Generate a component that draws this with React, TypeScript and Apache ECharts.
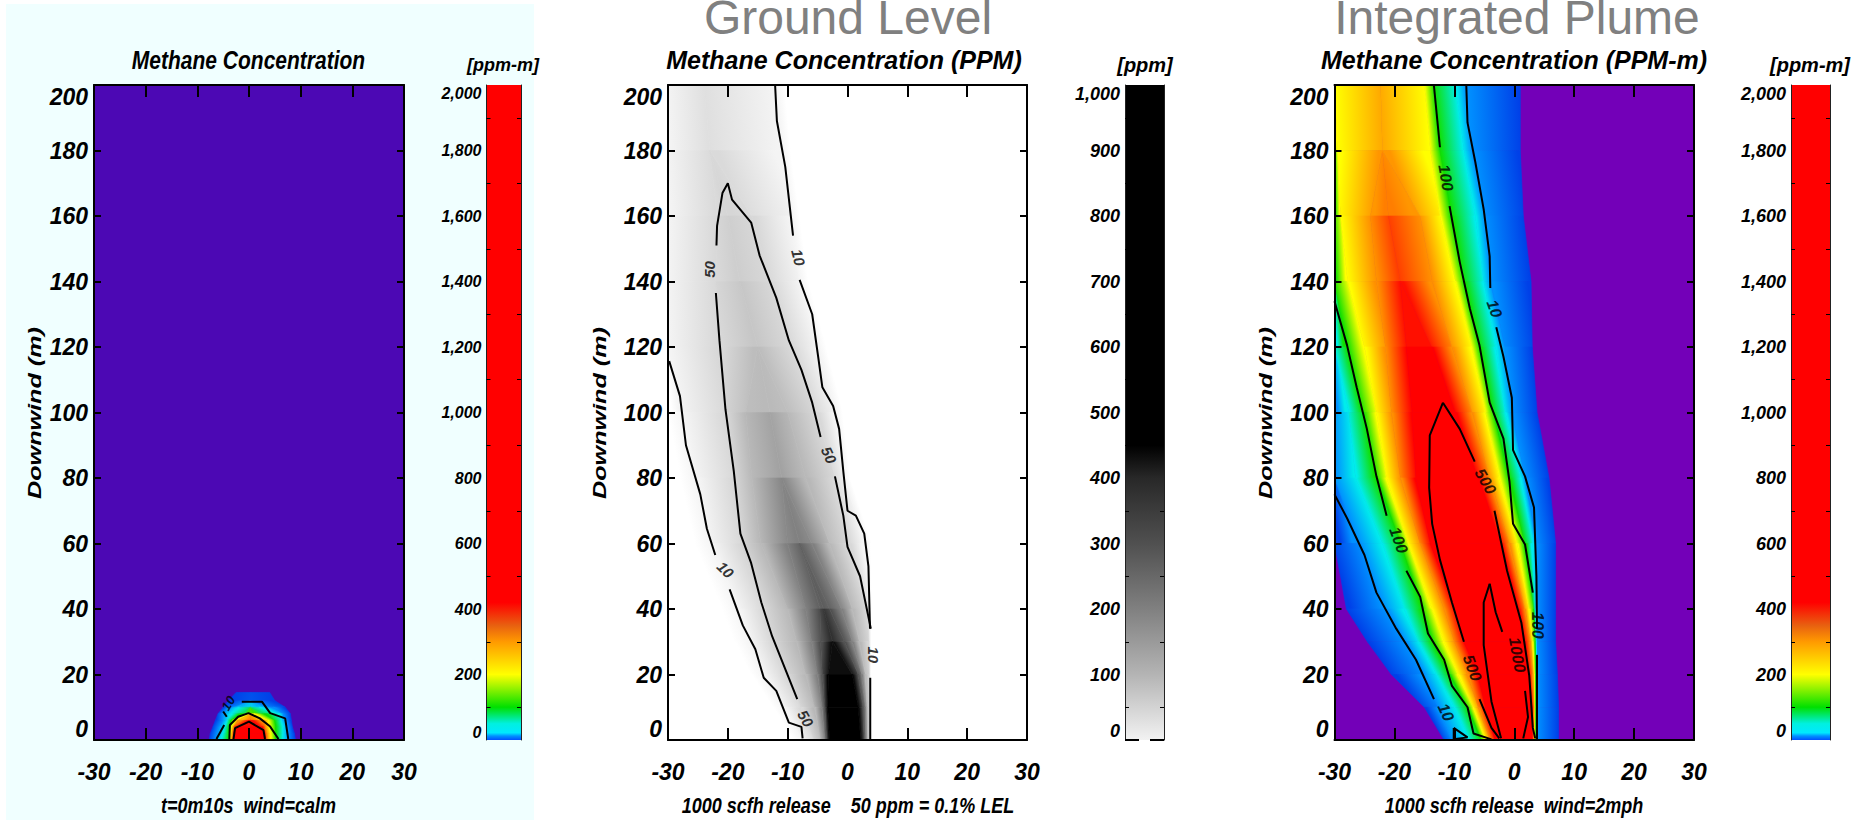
import React, { useEffect, useRef } from "react";
import * as echarts from "echarts";

const xTicks = [-30, 30];
const yRange = [0, 200];
const FONT = '"Liberation Sans Narrow", "Liberation Sans", Arial, sans-serif';
const WIDE = '"Liberation Sans", Arial, sans-serif';

// colour maps: level -> colour
const rainbowLevels = [1, 10, 30, 100, 200, 300, 420];
const rainbowColors = ["#0040e8", "#0090ff", "#00ecec", "#10e000", "#ffff00", "#ff9000", "#ff0000"];
const grayLevels = [2, 10, 50, 100, 200, 300, 450];
const grayColors = ["#ffffff", "#f4f4f4", "#d8d8d8", "#b8b8b8", "#808080", "#505050", "#000000"];

// colour bars
const rainbowBar: [number, string][] = [[0, "#0050ff"], [12, "#0090ff"], [22, "#00e8ff"], [50, "#00f0e0"], [100, "#00e000"], [150, "#80f000"], [200, "#ffff00"], [300, "#ff9a00"], [350, "#e86010"], [420, "#ff0000"], [2000, "#ff0000"]];
const grayBar: [number, string][] = [[0, "#f2f2f2"], [100, "#b4b4b4"], [200, "#808080"], [300, "#505050"], [400, "#282828"], [450, "#000000"], [1000, "#000000"]];

// ---- Panel 1: t=0m10s, calm. Band edges (x, m) per downwind row
const rows1 = [14.5, 12, 10, 8, 6, 4, 2, 0];
const peak1 = [1, 5, 40, 210, 400, 500, 500, 500];
const left1 = [
  [-2.5, -4, -5, -6, -6.5, -7, -7.5, -7.7],
  [0.3, 0.3, -3.8, -5.2, -5, -5.8, -6.2, -6.5],
  [0.3, 0.3, -2, -3.5, -4.2, -4.7, -5, -5.5],
  [0.3, 0.3, 0.3, -1.5, -3.5, -3.8, -3.9, -4],
  [0.3, 0.3, 0.3, 0, -2.8, -3.4, -3.6, -3.7],
  [0.3, 0.3, 0.3, 0.3, -2, -3, -3.2, -3.3],
  [0.3, 0.3, 0.3, 0.3, 0.3, -2.6, -2.9, -3],
];
const right1 = [
  [0.3, 0.3, 0.3, 0.3, 0.3, 2.6, 3, 3.1],
  [0.3, 0.3, 0.3, 0.3, 2.8, 3.2, 3.5, 3.6],
  [0.3, 0.3, 0.3, 1, 3.8, 4, 4.2, 4.3],
  [0.3, 0.3, 0.3, 3, 5, 5.2, 5.2, 5.2],
  [0.3, 0.3, 2, 6, 6.2, 6.6, 6.6, 6.6],
  [0.3, 0.3, 4.8, 6.6, 7, 7.5, 7.6, 7.6],
  [4, 5, 7, 8, 8.2, 8.4, 8.8, 9],
];
const contours1 = [
  [[-6.3, 0.3], [-4.8, 4.6]],
  [[-5, 8.7], [-4.3, 7.1]],
  [[-1.4, 11.7], [2.5, 11.7], [4.1, 8.2], [7, 6.6], [7.6, 0.3]],
  [[-3.8, 0.3], [-3.7, 4.6], [-2.1, 7.1], [-0.1, 8.2], [2.1, 6.6], [4.1, 4.1], [5.7, 0.3]],
  [[-3, 0.3], [-2.7, 3.6], [0, 5.6], [2.8, 3], [3.1, 0.3]],
];
const labels1: [number, number, string, number][] = [[-4, 11.2, "10", 60]];

// ---- Panel 2: ground level
const rows2 = [200, 180, 160, 140, 120, 100, 80, 60, 40, 30, 20, 10, 0];
const peak2 = [35, 45, 60, 72, 85, 110, 170, 225, 320, 400, 600, 800, 800];
const left2 = [
  [-30, -30, -30, -30, -30, -30, -28, -25.5, -21, -19, -16, -12.5, -9],
  [-30, -30, -30, -30, -30, -27.5, -25.2, -22.7, -18, -16, -14, -10.5, -7.5],
  [-24, -23, -21.8, -22, -21.5, -20.5, -19, -18, -14, -12.8, -10.2, -7.8, -5.6],
  [-24, -23, -20, -18, -15, -17, -16, -14.5, -10, -8.5, -7, -5.5, -4.5],
  [-24, -23, -20, -18, -15, -13, -11, -10, -7, -6, -5, -4.3, -3.8],
  [-24, -23, -20, -18, -15, -13, -11, -8, -4.6, -4.5, -4.2, -3.8, -3.5],
  [-24, -23, -20, -18, -15, -13, -11, -8, -4, -2.5, -3.2, -3.3, -3],
];
const right2 = [
  [-24, -23, -20, -18, -15, -13, -11, -8, -4, -2.5, 0.8, 1.8, 2.2],
  [-24, -23, -20, -18, -15, -13, -11, -8, -3, -0.5, 1.8, 2.6, 2.8],
  [-24, -23, -20, -18, -15, -13, -11, -6, -1, 0.8, 2.4, 3, 3.1],
  [-24, -23, -20, -18, -15, -10, -7, -3, 0.8, 2, 3, 3.3, 3.4],
  [-24, -23, -16, -12.8, -9.5, -5.2, -2, -0.1, 3.3, 3.6, 3.7, 3.7, 3.7],
  [-12.1, -11, -9.4, -8, -5, -2, -0.6, 3.1, 3.75, 3.8, 3.8, 3.8, 3.8],
  [-10.5, -9.5, -8, -6.5, -3.5, -0.8, 0.5, 4, 4, 4, 4, 4, 4],
];
const contours2 = [
  [[-29.8, 115.7], [-28, 105], [-27, 90], [-24.6, 75], [-23.5, 64.5], [-22.1, 56.5]],
  [[-19.7, 46], [-17.5, 35], [-15.4, 27.7], [-14, 19], [-11.9, 15], [-9.8, 5.3], [-7.7, 4], [-7.5, 0.5]],
  [[-12.1, 200], [-11.8, 189], [-10.4, 175], [-9.1, 154]],
  [[-8, 140.5], [-5.9, 130], [-4.9, 117], [-4.2, 107.7], [-2.4, 102], [-1.4, 95], [-0.7, 82], [0, 70], [1.4, 68.5], [2.8, 63], [3.5, 53], [3.76, 34]],
  [[3.8, 19], [3.8, 0]],
  [[-8.4, 12.5], [-12.6, 31.7], [-14.4, 42], [-16.1, 54], [-17.9, 63], [-19, 82], [-20.4, 101], [-21.4, 122], [-22, 136.5]],
  [[-21.9, 151], [-21.8, 157], [-20.9, 167], [-20, 170], [-19.3, 165], [-16.1, 158], [-14.7, 148], [-11.9, 135], [-9.8, 122], [-7.7, 113], [-5.9, 103], [-4.5, 92.5]],
  [[-2.1, 80.5], [-0.7, 68.5], [0, 59], [2.1, 50], [3.9, 34]],
];
const labels2: [number, number, string, number][] = [
  [-23, 143.7, "50", 90], [-8.2, 147.4, "10", -75], [-20.4, 52, "10", -45],
  [-3.1, 87, "50", -65], [4.4, 26, "10", -90], [-7, 6.6, "50", -60],
];

// ---- Panel 3: integrated plume
const rows3 = [200, 180, 160, 140, 120, 100, 80, 60, 40, 30, 20, 10, 0];
const peak3 = [265, 290, 340, 395, 440, 500, 500, 500, 500, 500, 500, 500, 500];
const left3 = [
  [-30, -30, -30, -30, -30, -30, -30, -30, -28, -24.5, -20.5, -15, -11.7],
  [-30, -30, -30, -30, -30, -30, -30, -26, -21.5, -18, -15, -12.7, -10.5],
  [-30, -30, -30, -30, -30, -27.6, -26.5, -22, -18.4, -16, -13, -10, -7.5],
  [-30, -30, -30, -30, -28, -25.3, -23, -18.9, -15.4, -13.7, -10.8, -7.8, -5.5],
  [-30, -29.5, -29, -27.8, -25, -23, -21.3, -17.7, -13.7, -11.7, -9.4, -6.8, -4.8],
  [-22.3, -22, -24, -23, -21.5, -20.5, -19, -15.7, -11.7, -10, -7.8, -6, -4],
  [-22.3, -22, -21, -19, -18, -17, -16.4, -14, -9.8, -8.4, -6, -4.8, -3.2],
];
const right3 = [
  [-22.3, -22, -21, -19, -13.7, -9.8, -6, -2.2, 0.8, 1.8, 2.5, 3, 3],
  [-22.3, -22, -15.7, -13.7, -10.4, -7, -4.1, -0.8, 1.8, 2.7, 3.1, 3.3, 3.3],
  [-15, -14, -12.4, -9.8, -7.1, -4.8, -2.5, 0.5, 2.5, 3.1, 3.4, 3.5, 3.5],
  [-13.4, -12.4, -10.4, -8.4, -5.8, -3.5, -0.8, 1.8, 3.3, 3.5, 3.6, 3.6, 3.6],
  [-9.8, -8.4, -6.5, -5.1, -3.1, -1.5, 1.2, 3.1, 3.5, 3.7, 3.75, 3.75, 3.75],
  [-8, -7.1, -4.8, -4, -1.5, -0.3, 1.8, 3.8, 3.8, 3.85, 3.9, 3.9, 3.9],
  [1, 1, 1.5, 2.8, 3, 3.8, 5.8, 6.9, 6.9, 6.9, 7.2, 7.4, 7.4],
];
const contours3 = [
  [[-8, 199.7], [-7.8, 188.5], [-6.5, 176.5], [-5.1, 162], [-4.1, 147.7], [-4, 138]],
  [[-3, 126], [-1.8, 117], [-0.4, 104.5], [-0.2, 88.5], [1.8, 80.5], [3.3, 71], [3.7, 50], [3.8, 34]],
  [[3.8, 26], [3.8, 0]],
  [[-13.4, 199.7], [-12.4, 181]],
  [[-10.8, 163], [-9.1, 146], [-7.4, 131.7], [-5.8, 120.5], [-4.1, 103], [-1.8, 92], [-0.8, 79], [-0.2, 66], [1.8, 59.7], [3.1, 45]],
  [[-11.9, 103], [-14.1, 93], [-14.2, 77], [-13.7, 66], [-12.4, 55], [-10.4, 42], [-8.4, 30]],
  [[-5.8, 12.5], [-3.8, 3.7], [-2.5, 0.5]],
  [[-11.9, 103], [-9.1, 95], [-6.6, 85]],
  [[-3.3, 70], [-1.2, 51.7], [1.2, 35.7], [2.5, 19.7], [3.1, 3.7], [3.5, 0.5]],
  [[-4.1, 47.7], [-5.1, 42], [-5.1, 29], [-3.8, 11.7], [-2.2, 0.5]],
  [[-4.1, 47.7], [-3.1, 39], [-2, 33]],
  [[1.8, 15], [2.3, 7], [1.5, 0.5]],
  [[-30, 134], [-27.9, 120.5], [-26.3, 107.7], [-24.6, 95], [-23, 80.5], [-21.3, 68.5]],
  [[-18, 51.7], [-15.7, 43.7], [-14.4, 32.5], [-11.7, 24.5], [-10.4, 16.5], [-7.8, 10], [-6.8, 2], [-3.8, 0.2]],
  [[-30, 75], [-27.9, 67.7], [-25, 56.5], [-23, 45], [-19.7, 34], [-16.4, 24.5], [-13.4, 12.5]],
  [[-10.1, 3.7], [-7.8, 0.8], [-10.1, 0.2], [-10.1, 3.7]],
];
const labels3: [number, number, string, number][] = [
  [-11.4, 171.7, "100", -80], [-3.3, 131.7, "10", -70], [-4.8, 79, "500", -60], [-19.3, 61, "100", -70],
  [-7, 22, "500", -70], [0.5, 26, "1000", -80], [3.8, 35, "100", -90], [-11.4, 8.5, "10", -65],
];

const hex = (c: string) => [1, 3, 5].map((i) => parseInt(c.slice(i, i + 2), 16));
function colorAt(v: number, levels: number[], colors: string[]) {
  if (v <= levels[0]) return colors[0];
  for (let i = 1; i < levels.length; i++) {
    if (v <= levels[i]) {
      const t = (v - levels[i - 1]) / (levels[i] - levels[i - 1]);
      const a = hex(colors[i - 1]);
      const b = hex(colors[i]);
      return `rgb(${a.map((p, k) => Math.round(p + (b[k] - p) * t)).join(",")})`;
    }
  }
  return colors[colors.length - 1];
}

// one polygon for every pair of neighbouring rows and neighbouring level edges
function bandItems(rows: number[], left: number[][], right: number[][], peak: number[], levels: number[]) {
  const edges = [...left, ...right];
  const vals = [...levels, ...[...levels].reverse()];
  const items: number[][] = [];
  for (let r = 0; r < rows.length - 1; r++) {
    for (let j = 0; j < edges.length - 1; j++) {
      const vLo = (Math.min(vals[j], peak[r]) + Math.min(vals[j], peak[r + 1])) / 2;
      const vHi = (Math.min(vals[j + 1], peak[r]) + Math.min(vals[j + 1], peak[r + 1])) / 2;
      items.push([edges[j][r], edges[j + 1][r], edges[j][r + 1], edges[j + 1][r + 1], rows[r], rows[r + 1], vLo, vHi]);
    }
  }
  return items;
}

function bandSeries(xi: number, yi: number, items: number[][], levels: number[], colors: string[]) {
  return {
    type: "custom",
    coordinateSystem: "cartesian2d",
    xAxisIndex: xi,
    yAxisIndex: yi,
    clip: true,
    silent: true,
    z: 2,
    data: items,
    encode: { x: [0, 1, 2, 3], y: [4, 5] },
    renderItem: (_: any, api: any) => {
      const a0 = api.coord([api.value(0), api.value(4)]);
      const a1 = api.coord([api.value(1), api.value(4)]);
      const b0 = api.coord([api.value(2), api.value(5)]);
      const b1 = api.coord([api.value(3), api.value(5)]);
      if (Math.abs(a1[0] - a0[0]) < 0.01 && Math.abs(b1[0] - b0[0]) < 0.01) return null;
      const points = [a0, a1, b1, b0];
      const cLo = colorAt(api.value(6), levels, colors);
      const cHi = colorAt(api.value(7), levels, colors);
      let fill: any = cLo;
      if (cLo !== cHi) {
        const ex = (b0[0] + b1[0]) / 2 - (a0[0] + a1[0]) / 2;
        const ey = (b0[1] + b1[1]) / 2 - (a0[1] + a1[1]) / 2;
        const len = Math.hypot(ex, ey) || 1;
        const nx = ey / len;
        const ny = -ex / len;
        const mx0 = (a0[0] + b0[0]) / 2;
        const my0 = (a0[1] + b0[1]) / 2;
        const d = ((a1[0] + b1[0]) / 2 - mx0) * nx + ((a1[1] + b1[1]) / 2 - my0) * ny;
        fill = new echarts.graphic.LinearGradient(mx0, my0, mx0 + nx * d, my0 + ny * d, [
          { offset: 0, color: cLo },
          { offset: 1, color: cHi },
        ], true);
      }
      return { type: "polygon", shape: { points }, style: { fill, stroke: fill, lineWidth: 0.7 } };
    },
  };
}

const panels = [
  { gridLeft: 94, gridW: 310, barLeft: 486.5, barW: 34.5, bg: "#4c08b4", rows: rows1, left: left1, right: right1, peak: peak1, levels: rainbowLevels, colors: rainbowColors, contours: contours1, labels: labels1, bar: rainbowBar, barMax: 2000, barInt: 200, barFont: 16, tickFont: 23, labelFont: 13 },
  { gridLeft: 668, gridW: 359, barLeft: 1125, barW: 39, bg: "#ffffff", rows: rows2, left: left2, right: right2, peak: peak2, levels: grayLevels, colors: grayColors, contours: contours2, labels: labels2, bar: grayBar, barMax: 1000, barInt: 100, barFont: 18, tickFont: 23, labelFont: 15 },
  { gridLeft: 1334.5, gridW: 359.5, barLeft: 1791, barW: 39, bg: "#7300b8", rows: rows3, left: left3, right: right3, peak: peak3, levels: rainbowLevels, colors: rainbowColors, contours: contours3, labels: labels3, bar: rainbowBar, barMax: 2000, barInt: 200, barFont: 18, tickFont: 23, labelFont: 16 },
];

const captions = ["t=0m10s  wind=calm", "1000 scfh release    50 ppm = 0.1% LEL", "1000 scfh release  wind=2mph"];
const titles = ["Methane Concentration", "Methane Concentration (PPM)", "Methane Concentration (PPM-m)"];
const headers = ["", "Ground Level", "Integrated Plume"];
const units = ["[ppm-m]", "[ppm]", "[ppm-m]"];

const TOP = 85;
const H = 655;

function buildOption() {
  const grid: any[] = [];
  const xAxis: any[] = [];
  const yAxis: any[] = [];
  const series: any[] = [];
  panels.forEach((p, i) => {
    grid.push({ left: p.gridLeft, top: TOP, width: p.gridW, height: H, show: true, backgroundColor: p.bg, borderWidth: 0 });
    grid.push({ left: p.barLeft, top: TOP, width: p.barW, height: H, show: false });
    const line = { show: true, onZero: false, lineStyle: { color: "#000", width: 2 } };
    const xBase = { type: "value", gridIndex: 2 * i, min: xTicks[0], max: xTicks[1], interval: 10, z: 6, splitLine: { show: false }, axisLine: line };
    xAxis.push({ ...xBase, position: "bottom", axisTick: { inside: true, length: 12, lineStyle: { color: "#000", width: 2 } }, axisLabel: { margin: 20, color: "#000", fontFamily: FONT, fontStyle: "italic", fontWeight: "bold", fontSize: p.tickFont } });
    xAxis.push({ ...xBase, position: "top", axisTick: { inside: true, length: 12, lineStyle: { color: "#000", width: 2 } }, axisLabel: { show: false } });
    xAxis.push({ type: "category", gridIndex: 2 * i + 1, data: ["scale"], show: false });
    const yBase = { type: "value", gridIndex: 2 * i, min: yRange[0], max: yRange[1], interval: 20, z: 6, splitLine: { show: false }, axisLine: line };
    yAxis.push({ ...yBase, position: "left", axisTick: { inside: true, length: 7, lineStyle: { color: "#000", width: 2 } }, axisLabel: { margin: 6, color: "#000", fontFamily: FONT, fontStyle: "italic", fontWeight: "bold", fontSize: p.tickFont, verticalAlignMinLabel: "bottom", verticalAlignMaxLabel: "top" } });
    yAxis.push({ ...yBase, position: "right", axisTick: { inside: true, length: 7, lineStyle: { color: "#000", width: 2 } }, axisLabel: { show: false } });
    const barBase = { type: "value", gridIndex: 2 * i + 1, min: 0, max: p.barMax, interval: p.barInt, z: 6, splitLine: { show: false }, minorSplitLine: { show: false }, axisLine: { show: true, onZero: false, lineStyle: { color: "#222", width: 1 } }, axisTick: { inside: true, length: 8, lineStyle: { color: "#000", width: 1 } }, minorTick: { show: true, splitNumber: 2, length: 4, lineStyle: { color: "#000", width: 1 } } };
    yAxis.push({ ...barBase, position: "left", axisLabel: { margin: 5, color: "#000", fontFamily: FONT, fontStyle: "italic", fontWeight: "bold", fontSize: p.barFont, verticalAlignMinLabel: "bottom", verticalAlignMaxLabel: "top" } });
    yAxis.push({ ...barBase, position: "right", axisLabel: { show: false } });

    series.push(bandSeries(3 * i, 4 * i, bandItems(p.rows, p.left, p.right, p.peak, p.levels), p.levels, p.colors));
    p.contours.forEach((c) => {
      series.push({ type: "line", xAxisIndex: 3 * i, yAxisIndex: 4 * i, data: c, showSymbol: false, symbol: "none", silent: true, z: 3, clip: true, lineStyle: { color: "#000", width: 2 } });
    });
    series.push({
      type: "scatter", xAxisIndex: 3 * i, yAxisIndex: 4 * i, symbolSize: 0, silent: true, z: 4,
      data: p.labels.map((l) => ({
        value: [l[0], l[1]],
        label: { show: true, position: "inside", formatter: l[2], rotate: l[3], color: "#000", fontFamily: FONT, fontStyle: "italic", fontWeight: "bold", fontSize: p.labelFont },
      })),
    });
    series.push({
      type: "bar", xAxisIndex: 3 * i + 2, yAxisIndex: 4 * i + 2, barWidth: "100%", silent: true, z: 2,
      data: [p.barMax],
      itemStyle: { color: new echarts.graphic.LinearGradient(0, 1, 0, 0, p.bar.map(([v, c]) => ({ offset: v / p.barMax, color: c }))) },
    });
  });

  const t = (text: string, x: number, y: number, font: string, extra: any = {}, fill = "#000") => ({
    type: "text", x, y, z: 20, silent: true, ...extra,
    style: { text, font, fill, textAlign: "center", textVerticalAlign: "middle" },
  });
  const graphic: any[] = [
    t(titles[0], 248.5, 60, `italic bold 21px ${WIDE}`, { scaleY: 1.2 }),
    t(titles[1], 844, 60, `italic bold 25px ${WIDE}`, { scaleY: 1.05 }),
    t(titles[2], 1514, 60, `italic bold 25px ${WIDE}`, { scaleY: 1.05 }),
    t(captions[0], 248.5, 805, `italic bold 18px ${WIDE}`, { scaleY: 1.2 }),
    t(captions[1], 848, 805, `italic bold 18px ${WIDE}`, { scaleY: 1.2 }),
    t(captions[2], 1514, 805, `italic bold 18px ${WIDE}`, { scaleY: 1.2 }),
    t(units[0], 503, 65, `italic bold 18px ${FONT}`),
    t(units[1], 1145, 65, `italic bold 20px ${FONT}`),
    t(units[2], 1810, 65, `italic bold 20px ${FONT}`),
    t(headers[1], 848, 17, `48px ${WIDE}`, {}, "#808080"),
    t(headers[2], 1517, 17, `48px ${WIDE}`, {}, "#808080"),
    { type: "line", z: 20, silent: true, shape: { x1: 1125, y1: 740, x2: 1139, y2: 740 }, style: { stroke: "#000", lineWidth: 2 } },
    { type: "line", z: 20, silent: true, shape: { x1: 1150, y1: 740, x2: 1164, y2: 740 }, style: { stroke: "#000", lineWidth: 2 } },
  ];
  [35, 599.5, 1265.5].forEach((x) => {
    graphic.push(t("Downwind (m)", x, 413, `italic bold 18px ${WIDE}`, { rotation: Math.PI / 2, scaleX: 1.4 }));
  });
  return { animation: false, backgroundColor: "transparent", tooltip: { show: false }, grid, xAxis, yAxis, series, graphic };
}

export default function App() {
  const ref = useRef<HTMLDivElement>(null);
  useEffect(() => {
    const chart = echarts.init(ref.current!, undefined, { renderer: "svg" });
    chart.setOption(buildOption() as any);
    return () => chart.dispose();
  }, []);
  return (
    <div style={{ position: "fixed", left: 0, top: 0, width: 1851, height: 820, background: "#fff", overflow: "hidden" }}>
      <div style={{ position: "absolute", left: 6, top: 4, width: 528, height: 816, background: "#f0ffff" }} />
      <div ref={ref} style={{ position: "absolute", left: 0, top: 0, width: 1851, height: 820 }} />
    </div>
  );
}
